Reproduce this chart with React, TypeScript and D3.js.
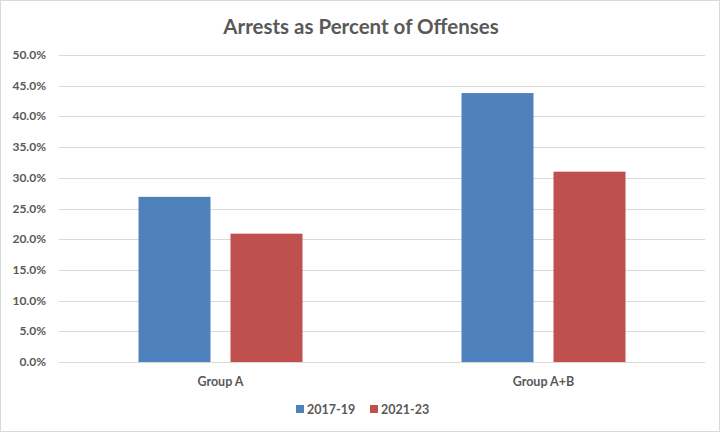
import React from "react";
import * as d3 from "d3";

const categories = ["Group A", "Group A+B"];
const seriesNames = ["2017-19", "2021-23"];
const values2017 = [0.269, 0.438];
const values2021 = [0.209, 0.310];
const yTicks = [0, 0.05, 0.1, 0.15, 0.2, 0.25, 0.3, 0.35, 0.4, 0.45, 0.5];
const colors = ["#4F81BD", "#C0504D"];

const W = 720, H = 432;
const left = 59, right = 705, top = 55, bottom = 362;
const font = "Lato, 'Open Sans', sans-serif";

export default function App() {
  const y = d3.scaleLinear().domain([0, 0.5]).range([bottom, top]);
  const x0 = d3.scaleBand<string>().domain(categories).range([left, right]).paddingInner(0).paddingOuter(0);
  const step = x0.step();
  const barW = 72, gap = 20;
  const groupW = barW * 2 + gap;
  const series = [values2017, values2021];
  const fmt = d3.format(".1%");

  return (
    <svg width={W} height={H} style={{ position: "absolute", left: 0, top: 0 }}>
      <rect x={0.5} y={0.5} width={W - 1} height={H - 1} fill="#fff" stroke="#D9D9D9" />
      <text x={W / 2 + 1} y={34} textAnchor="middle" fontFamily={font} fontWeight={700} fontSize={20.5} fill="#595959">
        Arrests as Percent of Offenses
      </text>
      {yTicks.map((t) => (
        <g key={t}>
          <line x1={left} x2={right} y1={Math.round(y(t)) + 0.5} y2={Math.round(y(t)) + 0.5} stroke="#D9D9D9" />
          <text x={46} y={y(t) + 4} textAnchor="end" fontFamily={font} fontWeight={700} fontSize={12} fill="#595959">
            {fmt(t)}
          </text>
        </g>
      ))}
      {categories.map((c, i) => {
        const gx = (x0(c) as number) + (step - groupW) / 2;
        return (
          <g key={c}>
            {series.map((vals, s) => (
              <rect key={s} x={gx + s * (barW + gap)} y={y(vals[i])} width={barW} height={bottom - y(vals[i])} fill={colors[s]} />
            ))}
            <text x={(x0(c) as number) + step / 2} y={386} textAnchor="middle" fontFamily={font} fontWeight={700} fontSize={12.5} fill="#595959">
              {c}
            </text>
          </g>
        );
      })}
      <line x1={left} x2={right} y1={bottom + 0.5} y2={bottom + 0.5} stroke="#D9D9D9" />
      {seriesNames.map((n, s) => (
        <g key={n} transform={`translate(${296 + s * 74},0)`}>
          <rect x={0} y={405} width={8} height={8} fill={colors[s]} />
          <text x={11} y={414} fontFamily={font} fontWeight={700} fontSize={12.5} fill="#595959">{n}</text>
        </g>
      ))}
    </svg>
  );
}
